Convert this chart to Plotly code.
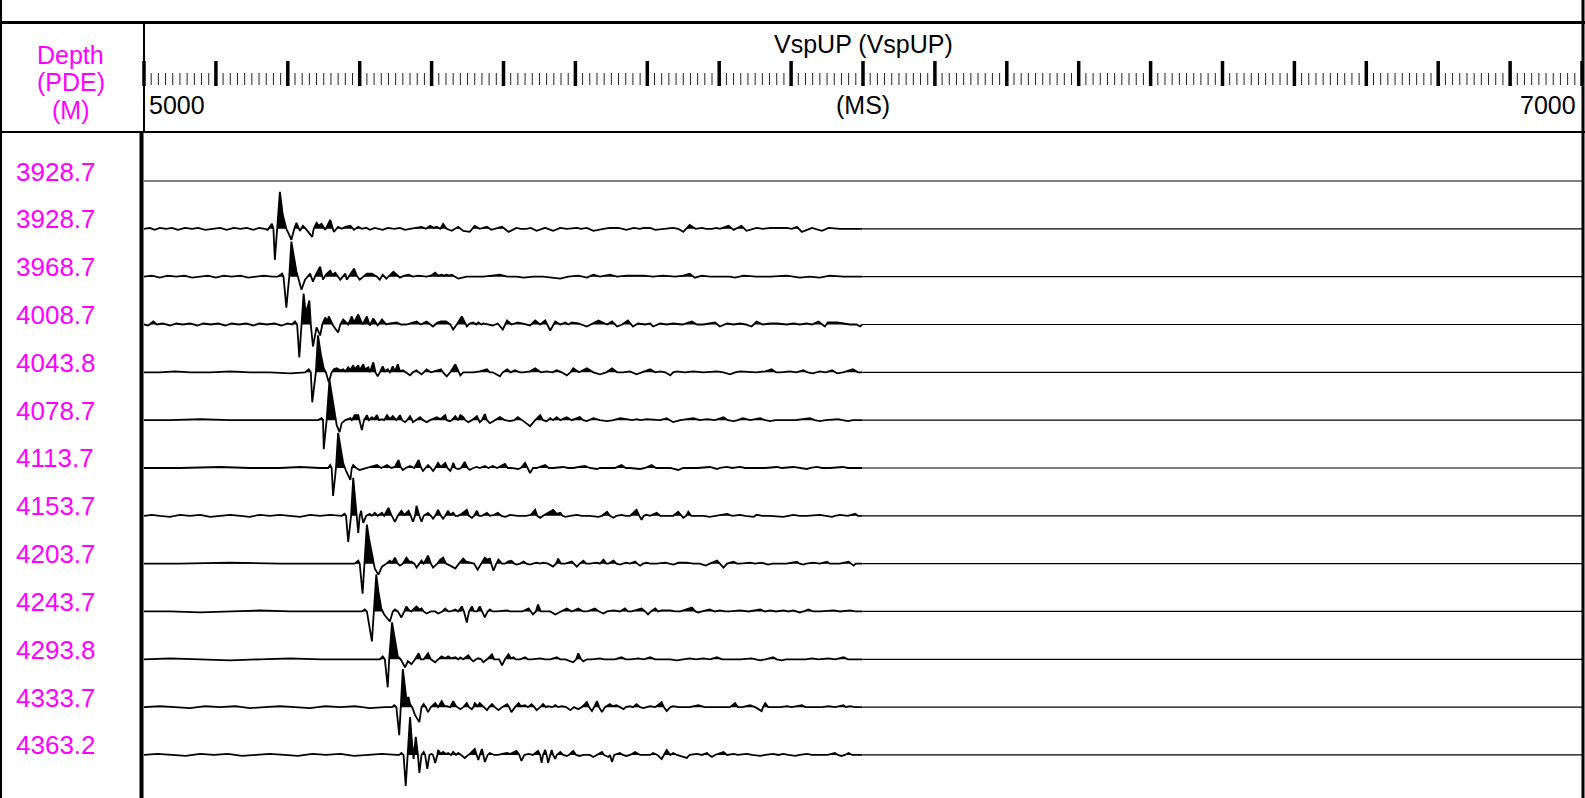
import plotly.graph_objects as go

# ---------------- data ----------------
DEPTHS = ["3928.7", "3928.7", "3968.7", "4008.7", "4043.8", "4078.7", "4113.7",
          "4153.7", "4203.7", "4243.7", "4293.8", "4333.7", "4363.2"]
TIME_START, TIME_END = 5000, 7000      # ms
MAJOR_STEP, MINOR_STEP = 100, 10       # ms
TITLE = "VspUP (VspUP)"
UNIT = "(MS)"
DEPTH_HEADER = ["Depth", "(PDE)", "(M)"]

# trace samples: time offset (ms after 5000) and relative amplitude (positive = up)
T02 = [0,8,15,22,31,39,47,57,67,75,85,95,106,115,125,134,143,152,160,168,172,178,180,182,185,189,193,198,202,205,209,212,217,221,225,234,236,240,243,247,252,259,264,270,275,280,287,292,298,303,309,314,321,332,339,348,356,363,370,378,386,392,398,403,407,412,416,421,428,437,444,453,460,467,477,483,488,498,507,518,524,532,538,546,558,569,579,588,602,608,616,625,639,648,660,671,681,690,695,704,711,722,729,736,743,750,759,767,776,782,790,796,801,813,820,831,838,852,861,871,882,894,901,908,915,929,943,952,968,982,999]
A02 = [0,1,-1,1,0,1,-1,1,0,1, -1,0,1,-1,1,0,1,-1,1,0, -1,5,0,-31,0,37,14,0,-6,-11,0, 6,-2,3,0,-8,0,6,3,5,-1, 9,-3,2,0,2,3,-1,2,0,1, -1,1,-1,1,0,1,-1,0,1,2, 0,3,1,2,0,5,0,-2,2,-2, -3,3,0,2,-1,0,2,-3,1,0, 0,1,-2,1,-2,1,0,1,0,1, -2,0,1,1,-1,1,0,1,1,-1, 0,1,1,0,-3,4,0,1,0,0, 1,0,3,-1,3,-2,1,0,1,1, 1,0,2,-3,1,-2,1,0,0,0]

T03 = [0,11,22,33,45,56,67,78,89,100, 111,122,134,145,156,167,178,186,192,194, 198,202,205,209,212,216,219,224,231,235, 239,245,249,253,259,262,266,273,280,282, 287,292,296,300,310,317,324,328,332,337, 347,356,362,368,374,382,393,399,405,409, 414,417,421,424,428,437,449,463,472,484, 495,505,518,528,542,555,565,579,590,604, 616,625,634,648,658,671,685,695,708,722, 739,750,759,766,776,787,801,815,822,834, 852,871,894,912,926,940,954,973,991,999]
A03 = [0,1,-1,1,0,1,-1,0,1,-1, 1,0,1,-1,0,1,0,0,3,0, -31,0,35,20,5,-5,-13,-3,3,-5, 2,10,-3,2,6,2,4,-3,3,-3, 2,8,1,-3,3,3,0,-3,2,-2, 5,-1,1,2,0,1,0,1,4,1, 2,1,2,1,2,-2,0,0,0,1, 2,0,0,-1,0,0,-1,-2,0,1, -1,2,0,2,0,1,1,1,0,1, 0,1,3,-1,1,0,0,0,-1,1, 0,0,1,-1,0,-1,1,0,0,0]

T04 = [0,6,13,18,26,36,45,54,64,74, 83,93,103,113,122,132,142,152,161,171, 181,191,200,206,210,213,216,219,222,225, 230,232,235,240,245,248,252,255,257,263, 270,273,277,284,289,292,298,304,310,314, 319,325,331,337,342,352,357,365,371,379, 385,393,402,408,413,420,426,430,435,442, 449,453,458,462,465,469,472,479,485,492, 499,505,511,520,530,537,544,551,558,565, 572,579,586,590,595,604,616,623,632,644, 651,658,665,673,680,687,697,704,708,718, 727,736,749,762,769,778,786,794,801,811, 820,829,837,845,852,861,871,880,894,903, 912,922,929,938,947,951,964,972,982,991, 996,999]
A04 = [0,-1,3,0,1,-1,1,0,1,-1, 1,0,1,-1,1,0,1,-1,1,0, 1,-1,1,0,3,0,-33,0,31,11, 24,0,-22,-3,-11,0,7,3,8,-1, -8,0,5,0,8,2,10,0,8,-1, 6,-1,5,0,1,2,0,0,1,3, 0,3,-2,2,3,3,0,-5,0,8, -2,1,2,0,2,0,1,0,-1,1, -5,4,0,2,0,-1,4,0,4,-6, 3,0,2,0,2,1,-2,1,4,0, 3,-2,0,4,-2,1,0,1,-2,1, 0,1,0,3,0,0,1,2,-2,1, 0,1,0,-2,3,0,1,1,0,1, 0,1,0,3,-2,2,2,1,0,0, -2,0]

T05 = [0,22,43,64,92,120,147,175,203,217, 224,229,232,234,239,242,246,250,253,257, 261,264,268,273,277,280,284,287,291,293, 298,300,305,307,312,314,319,322,325,328, 332,335,339,342,346,349,353,356,360,364, 370,374,379,382,386,389,393,399,407,413, 416,421,426,433,440,444,449,458,467,477, 481,485,495,499,505,510,516,523,527,537, 544,552,560,568,574,581,588,593,597,605, 616,625,634,643,651,658,666,676,685,694, 704,711,718,725,732,736,741,752,764,778, 797,806,815,822,829,852,864,873,879,885, 899,907,917,923,930,940,948,957,964,972, 986,993,999]
A05 = [0,0,1,0,0,1,0,0,-1,0, 0,3,0,-30,0,37,18,4,0,-10, 0,3,4,2,3,1,5,2,7,3, 7,2,8,3,5,0,10,0,-4,0, 6,1,3,0,6,1,8,1,2,0, -3,0,2,0,-2,0,3,0,2,3, 0,-4,0,8,-3,0,0,0,1,3, 0,0,-4,0,3,0,2,0,0,1, 4,0,1,0,2,0,-3,0,4,0, 4,0,-2,0,4,0,0,1,-2,0, 3,0,1,0,-3,0,1,0,1,0, 1,0,-2,0,1,0,1,3,0,0, 1,0,2,0,-1,1,0,2,-1,0, 3,0,0]

T06 = [0,36,78,120,161,203,231,242,247,249, 250,254,258,262,266,268,272,275,280,287, 289,293,298,300,303,306,310,313,317,320, 324,327,331,334,338,342,346,351,356,359, 363,366,370,373,374,378,384,388,393,398, 407,412,419,421,426,428,433,437,440,444, 447,451,456,463,465,467,470,474,477,481, 488,495,502,509,515,520,526,537,544,551, 555,560,565,569,574,579,588,595,606,611, 616,620,625,634,644,653,662,671,679,685, 691,699,711,718,727,732,736,746,764,773, 783,794,806,812,820,826,833,843,857,864, 871,878,885,899,906,926,933,940,948,965, 972,979,986,999]
A06 = [0,0,1,0,0,0,0,0,2,0, -29,0,40,22,3,-5,-12,-3,0,2, 0,5,5,0,-10,0,5,0,3,1, 5,0,1,0,5,1,4,0,5,0, -2,0,4,0,-2,0,3,0,-2,0, 3,1,5,0,-1,0,4,0,5,3, 0,-2,0,4,0,-2,0,6,0,-3, 0,3,0,-1,0,3,0,-6,0,5, 0,-1,2,0,3,0,3,0,3,0, -1,0,2,0,-1,0,2,1,0,1, 0,1,0,0,2,0,-2,0,2,0, 1,0,3,0,-1,0,2,0,2,0, -1,0,0,0,0,2,0,-1,0,1, 0,-1,0,0]

T07 = [0,50,106,147,189,217,245,256,259,261, 263,267,270,274,277,281,287,289,291,295, 300,310,316,324,330,338,344,349,354,357, 360,364,370,376,382,385,388,391,395,399, 402,405,409,413,419,422,426,428,430,433, 437,441,446,450,453,458,463,467,474,479, 485,491,502,506,511,520,524,530,533,537, 541,546,558,563,569,583,590,597,613,620, 630,634,644,655,664,670,676,690,697,706, 712,718,732,743,750,755,770,787,791,797, 801,811,818,829,836,845,864,880,887,903, 912,922,927,936,943,954,972,979,991,999]
A07 = [0,0,1,0,0,1,0,0,3,0, -28,0,35,20,5,-3,-12,0,3,0, -2,0,1,3,0,3,0,1,8,1, -2,0,2,0,8,1,-3,0,3,0, -3,0,5,1,5,0,-3,0,5,0, -1,0,6,0,-2,0,1,0,2,0, 2,0,4,0,0,-1,0,5,0,-5, 0,0,3,0,0,1,0,0,2,0, -1,0,0,0,3,0,0,-1,0,3, 0,0,0,-2,0,0,0,1,0,-1, 0,1,0,1,0,0,0,1,0,1, 0,-1,0,1,0,0,1,0,0,0]

T08 = [0,11,22,36,50,64,78,92,106,120, 134,147,161,175,189,203,217,231,245,259, 270,275,279,281,284,288,291,296,298,300, 302,303,305,309,314,317,321,325,331,334, 340,344,349,353,358,362,368,371,374,377, 379,383,386,389,395,399,402,405,409,413, 416,419,423,426,430,433,437,442,449,452, 456,459,463,466,470,477,481,487,492,497, 502,506,509,520,532,538,544,547,551,555, 562,569,574,579,582,586,593,602,609,620, 632,637,644,648,653,657,664,670,676,685, 689,692,695,699,704,713,718,726,736,743, 747,750,754,757,761,764,778,787,794,811, 818,829,836,848,852,860,871,889,896,903, 912,922,940,947,957,961,968,979,989,993, 999]
A08 = [0,1,0,-1,1,0,1,-1,0,1, 0,-1,1,0,1,0,-1,1,0,1, 0,0,2,0,-26,0,38,0,-17,0, 5,0,-7,0,2,0,3,0,3,0, 8,1,-6,0,5,1,5,0,-6,0, 10,0,-6,0,3,0,-3,0,6,0, -3,0,5,1,3,0,0,2,6,0, -2,0,5,0,0,3,0,1,3,0, -1,0,1,0,0,1,6,0,-2,0, 3,6,2,3,0,-1,0,1,0,0, -1,0,4,0,-2,0,1,0,0,6, 0,-4,0,1,0,3,0,0,0,4, 0,-2,0,4,0,0,0,-1,0,2, 0,1,0,-1,1,0,0,-1,0,1, 0,0,1,0,-1,0,1,0,2,0, 0]

T09 = [0,50,120,189,245,287,293,298,300,304, 307,310,313,319,321,326,331,337,342,345, 349,353,356,360,365,369,372,376,379,383, 386,389,395,399,402,408,412,416,420,426, 433,438,444,448,453,459,464,469,474,477, 481,483,486,490,493,498,502,506,511,515, 518,523,528,532,537,541,546,551,555,562, 569,573,576,580,586,595,598,602,606,611, 615,620,630,634,639,643,646,653,657,662, 666,671,676,683,686,690,694,699,704,713, 725,732,736,740,743,755,764,773,781,787, 797,801,806,811,820,825,829,843,850,859, 864,868,874,880,894,908,912,917,921,931, 940,950,954,959,968,980,983,987,990,999]
A09 = [0,0,1,0,0,0,0,3,0,-30, 0,39,25,3,-5,-11,-3,0,3,1, 6,0,-2,0,6,2,2,0,-4,0, 3,0,8,0,-4,0,4,6,0,-2, -5,0,5,2,1,0,-6,0,6,4, 5,0,-7,0,4,0,0,2,3,0, -1,0,2,0,-1,0,1,0,1,0, -3,0,5,0,0,2,0,-3,0,3, 0,0,1,0,4,0,0,3,0,-1, 0,1,0,2,0,-2,0,1,0,0, 1,0,-1,0,1,1,0,0,-2,0, 3,0,-4,0,2,0,0,1,0,1, 0,-1,0,0,0,2,0,-1,0,1, 0,2,0,0,0,2,0,-2,0,0]

T10 = [0,36,78,120,161,203,245,273,300,303, 307,310,317,320,323,326,330,334,342,346, 349,353,358,362,365,369,372,376,379,383, 386,389,393,399,405,409,415,419,423,426, 433,437,442,445,449,452,456,459,463,467, 470,474,478,481,485,491,505,509,518,526, 535,538,541,545,548,552,555,565,572,579, 588,595,604,611,616,627,633,639,644,653, 662,669,673,678,692,697,701,705,711,715, 720,732,739,746,762,767,771,776,787,794, 801,808,815,829,836,841,857,864,871,879, 889,896,903,908,912,917,924,931,940,959, 968,982,989,996,999]
A10 = [0,0,-1,0,1,0,0,0,0,0, 2,0,-30,0,37,20,3,-3,-10,0, 2,0,-6,0,5,1,0,3,5,2, 3,0,-2,0,0,-2,0,3,0,0, 2,0,5,0,-11,0,5,0,0,5, 0,-6,0,2,0,0,1,0,0,0, 3,0,-3,0,7,0,0,0,-3,0, 3,0,3,0,0,3,0,-2,0,1, 0,3,0,0,3,0,-3,0,3,0, 1,1,0,0,4,0,-1,0,2,0, 1,0,0,1,0,0,2,0,1,0, 1,0,1,0,-1,0,2,0,0,1, 0,1,0,0,0]

T11 = [0,36,78,120,161,203,245,287,321,328, 332,335,339,341,345,349,353,357,363,367, 372,377,382,385,389,392,395,399,405,409, 414,419,423,427,433,437,440,444,451,455, 458,462,465,469,472,477,484,487,491,494, 498,502,507,510,514,517,523,530,534,539, 551,558,565,574,579,586,597,601,604,608, 611,616,623,634,640,646,655,664,670,676, 688,695,704,711,720,732,741,750,759,768, 778,787,797,804,815,829,845,851,857,864, 875,880,887,893,906,920,929,938,952,961, 973,979,987,999]
A11 = [0,1,0,-1,0,1,0,0,0,0, 3,0,-28,0,37,20,3,0,-8,-2, -5,0,6,0,0,3,6,0,-3,0, 3,1,3,1,2,0,2,0,4,0, -2,0,1,0,-3,0,5,0,0,0, -6,0,5,1,2,0,0,2,0,0, 1,0,0,2,0,0,-3,0,6,0, -2,0,0,1,0,0,0,2,0,0, 1,0,2,0,0,0,-1,0,1,0, 1,0,2,0,0,0,1,0,-1,0, 2,0,-1,0,0,0,1,0,1,0, 2,0,0,0]

T12 = [0,22,43,64,85,106,127,147,168,189, 210,231,252,273,293,314,335,345,348,351, 355,357,360,363,365,368,370,373,377,383, 386,389,392,395,399,405,409,414,418,421, 426,430,434,440,444,449,452,456,458,460, 464,467,472,477,480,484,488,493,498,505, 508,511,516,521,524,530,534,539,543,546, 551,555,559,562,568,572,576,581,587,593, 598,604,609,616,619,623,626,630,633,637, 641,648,652,657,662,667,670,676,680,685, 690,695,699,704,711,720,723,727,732,736, 743,750,759,771,780,787,796,806,815,822, 826,832,843,850,859,861,864,868,876,885, 894,901,915,920,933,943,952,961,973,976, 982,989,999]
A12 = [0,1,0,-1,1,0,1,-1,0,1, 0,-1,1,0,1,-1,0,0,2,0, -28,0,38,20,8,10,3,0,-8,-15, 0,3,0,-5,0,4,0,6,1,1, 0,6,1,-2,0,4,0,-2,0,4, 1,4,0,-3,0,3,0,-3,0,3, 0,-5,0,4,1,2,0,3,0,-3, 0,3,0,1,0,2,0,1,0,-3, 0,-2,0,5,0,-4,0,6,0,-5, 0,3,1,2,0,-2,0,1,0,3, 0,-1,0,1,0,5,0,-4,0,1, 0,0,0,2,0,0,0,0,0,4, 0,0,2,0,-4,0,4,0,0,0, 1,0,2,0,0,0,1,0,2,0, 1,0,0]

T13 = [0,19,39,58,78,97,117,136,156,175, 195,214,234,253,273,292,312,331,351,355, 358,361,364,367,370,373,375,376,378,381, 383,386,389,391,394,397,400,402,405,408, 409,413,416,420,423,427,430,434,437,441, 446,451,453,460,465,467,470,472,474,478, 481,487,493,498,505,509,518,522,525,529, 535,541,548,551,553,555,558,560,562,565, 567,569,572,574,579,583,588,591,597,601, 606,611,616,620,625,630,637,640,646,648, 651,654,662,666,671,676,683,690,697,704, 708,714,720,723,727,732,736,741,755,759, 769,776,783,786,790,794,806,811,820,826, 838,846,857,864,875,882,889,896,906,912, 922,929,940,951,961,965,970,975,980,985, 999]
A13 = [0,1,0,-1,1,0,1,-1,0,1, 0,-1,1,0,1,-1,0,1,0,0, 2,0,-31,0,38,10,-4,5,18,0, -18,0,3,0,-14,0,1,0,-8,0, 5,1,3,1,2,0,3,0,2,0, -3,0,1,6,-5,0,6,0,-7,0, 2,0,0,1,2,1,4,0,-6,0, 1,0,4,0,-8,0,5,0,-8,0, 5,0,-4,0,3,0,-1,0,4,0, -1,0,0,0,-2,0,3,0,-2,0, -7,0,2,0,-1,0,3,0,0,0, 2,0,-4,0,5,0,2,0,-3,0, 1,0,2,0,-2,0,3,0,1,0, 1,0,-1,0,1,0,1,0,-1,0, 1,0,0,0,2,0,-1,0,2,0, 0]

TRACES = [None, (T02, A02), (T03, A03), (T04, A04), (T05, A05), (T06, A06), (T07, A07),
          (T08, A08), (T09, A09), (T10, A10), (T11, A11), (T12, A12), (T13, A13)]

# ---------------- layout / style ----------------
W, H = 1585, 798
ML, MR, MT, MB = 144, 3, 132, 0
PW, PH = W - ML - MR, H - MT - MB
ROW = 47.83          # px between trace baselines
FIRST = 49           # px from plot top to first baseline
GAIN = 1.0 / ROW     # amplitude unit -> trace spacing
FONT = "Arial, 'Liberation Sans', sans-serif"
MAGENTA = "#FF00FF"
LW = 1.8

def fx(px):
    return (px - ML) / PW

def fy(py):
    return (H - MB - py) / PH

def tx(t):
    return (t - TIME_START) / (TIME_END - TIME_START)

fig = go.Figure()

for i, tr in enumerate(TRACES):
    base = -i
    if tr is None:
        fig.add_trace(go.Scatter(x=[TIME_START, TIME_END], y=[base, base], mode="lines",
                                 line=dict(color="black", width=1.2), hoverinfo="skip"))
        continue
    T, A = tr
    assert len(T) == len(A), (i, len(T), len(A))
    ts = [TIME_START + v for v in T]
    # positive-lobe polygon (variable area) with zero crossings
    px_, py_ = [ts[0]], [0.0]
    for k in range(len(ts)):
        if k > 0 and A[k - 1] * A[k] < 0:
            tc = ts[k - 1] + (0 - A[k - 1]) * (ts[k] - ts[k - 1]) / (A[k] - A[k - 1])
            px_.append(tc); py_.append(0.0)
        px_.append(ts[k]); py_.append(max(A[k], 0))
    px_.append(ts[-1]); py_.append(0.0)
    fig.add_trace(go.Scatter(x=px_, y=[base + v * GAIN for v in py_], mode="lines",
                             fill="toself", fillcolor="black", line=dict(width=0, color="black"),
                             hoverinfo="skip"))
    fig.add_trace(go.Scatter(x=ts, y=[base + v * GAIN for v in A], mode="lines",
                             line=dict(color="black", width=LW), hoverinfo="skip"))
    fig.add_trace(go.Scatter(x=[ts[-1], TIME_END], y=[base, base], mode="lines",
                             line=dict(color="black", width=1.2), hoverinfo="skip"))

shapes = []
def hline(y, x0, x1, w, c="black"):
    shapes.append(dict(type="line", xref="paper", yref="paper", x0=fx(x0), x1=fx(x1),
                       y0=fy(y), y1=fy(y), line=dict(color=c, width=w)))
def vline(x, y0, y1, w, c="black"):
    shapes.append(dict(type="line", xref="paper", yref="paper", x0=fx(x), x1=fx(x),
                       y0=fy(y0), y1=fy(y1), line=dict(color=c, width=w)))

hline(22.5, 0, W, 3)
hline(132, 0, W, 2)
vline(1, 0, H, 2)
vline(1583, 0, H, 3)
vline(144, 22.5, 132, 2)
vline(141.5, 132, H, 4)

# ruler ticks
t = TIME_START
while t <= TIME_END:
    major = (t - TIME_START) % MAJOR_STEP == 0
    x = tx(t)
    if major:
        shapes.append(dict(type="line", xref="paper", yref="paper", x0=x, x1=x,
                           y0=fy(86), y1=fy(61), line=dict(color="black", width=3.5)))
    else:
        shapes.append(dict(type="line", xref="paper", yref="paper", x0=x, x1=x,
                           y0=fy(85), y1=fy(73), line=dict(color="#222222", width=1)))
    t += MINOR_STEP

ann = []
def text(s, x, y, anchor="center", color="black", size=25):
    ann.append(dict(text=s, xref="paper", yref="paper", x=fx(x), y=fy(y), xanchor=anchor,
                    yanchor="middle", showarrow=False, font=dict(family=FONT, size=size, color=color)))

for j, s in enumerate(DEPTH_HEADER):
    text(s, 70.5, [55, 82, 110][j], color=MAGENTA)
text(TITLE, 863, 44)
text(str(TIME_START), 147, 105, anchor="left")
text(UNIT, 863, 105)
text(str(TIME_END), 1578, 105, anchor="right")
for i, d in enumerate(DEPTHS):
    text(d, 14, MT + FIRST + i * ROW - 9.5, anchor="left", color=MAGENTA, size=26)

fig.update_layout(
    width=W, height=H, autosize=False, showlegend=False,
    margin=dict(l=ML, r=MR, t=MT, b=MB, pad=0),
    paper_bgcolor="white", plot_bgcolor="white",
    xaxis=dict(range=[TIME_START, TIME_END], visible=False, fixedrange=True),
    yaxis=dict(range=[-(PH - FIRST) / ROW, FIRST / ROW], visible=False, fixedrange=True),
    shapes=shapes, annotations=ann,
)
fig.write_html("out.html", config={"displayModeBar": False},
               post_script="document.body.style.margin='0';document.body.style.overflow='hidden';")
